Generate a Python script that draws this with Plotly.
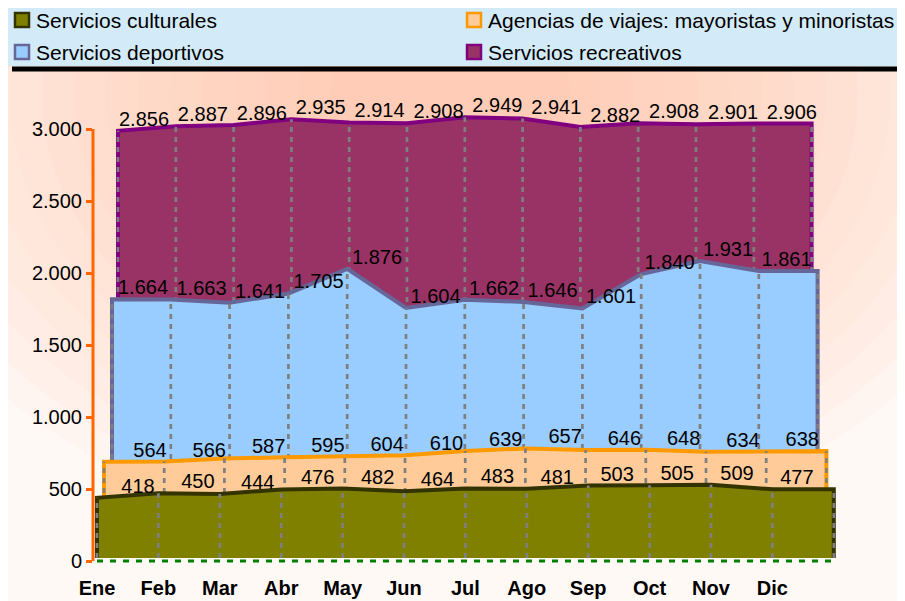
import plotly.graph_objects as go

meses = ['Ene', 'Feb', 'Mar', 'Abr', 'May', 'Jun', 'Jul', 'Ago', 'Sep', 'Oct', 'Nov', 'Dic']
culturales = [418, 450, 444, 476, 482, 464, 483, 481, 503, 505, 509, 477]
agencias = [564, 566, 587, 595, 604, 610, 639, 657, 646, 648, 634, 638]
deportivos = [1664, 1663, 1641, 1705, 1876, 1604, 1662, 1646, 1601, 1840, 1931, 1861]
recreativos = [2856, 2887, 2896, 2935, 2914, 2908, 2949, 2941, 2882, 2908, 2901, 2906]
ticks_y = [0, 500, 1000, 1500, 2000, 2500, 3000]

FUENTE = 'Liberation Sans, Arial, sans-serif'
# all pixel numbers below are page pixels of the 905x601 window;
# the page body puts the figure 8px in from the top-left corner
OFF = 8
L, R, T, B = 93, 850, 90, 566
ESC = 0.144  # px per unit on the value axis


def x_rango(x0_px, paso_px):
    a = (L - x0_px) / paso_px
    return [a, a + (R - L) / paso_px]


def y_rango(sube_px=0):
    a = -(B - 561 + sube_px) / ESC
    return [a, a + (B - T) / ESC]


def papel(px, py):
    return (px - L) / (R - L), (B - py) / (B - T)


# back to front: name, values, fill, edge, first x px, step px, lift px,
# label start px, label step px, legend spot (swatch x, row y)
series = [
    ('Servicios recreativos', recreativos, '#993366', '#800080', 118, 57.8, 19, 144, 58.9, (474, 52)),
    ('Servicios deportivos', deportivos, '#99CCFF', '#666699', 112, 58.8, 22, 143, 58.5, (22, 52)),
    ('Agencias de viajes: mayoristas y minoristas', agencias, '#FFCC99', '#FF9900', 104, 60.2, 18, 150, 59.3, (474, 20)),
    ('Servicios culturales', culturales, '#808000', '#333300', 97, 61.4, 3, 138, 59.9, (22, 20)),
]

fig = go.Figure()

n = len(meses)
# floor of the chart, main axes
fig.add_trace(go.Scatter(
    x=[0, n], y=[0, 0], mode='lines',
    line=dict(color='#008000', width=3, dash='6px,7px'),
    hoverinfo='skip', showlegend=False))

layout_ejes = {}
for k, (nombre, vals, relleno, borde, x0, paso, sube, et0, etp, _) in enumerate(series):
    ax = str(k + 2)
    xs = [0] + list(range(n + 1)) + [n]
    ys = [0] + vals + [vals[-1], 0]
    fig.add_trace(go.Scatter(
        x=xs, y=ys, xaxis='x' + ax, yaxis='y' + ax,
        mode='lines', fill='toself', fillcolor=relleno,
        line=dict(color=borde, width=4), name=nombre,
        hoverinfo='skip', showlegend=False))
    vx, vy = [], []
    for i in range(n + 1):
        vx += [i, i, None]
        vy += [0, vals[min(i, n - 1)], None]
    fig.add_trace(go.Scatter(
        x=vx, y=vy, xaxis='x' + ax, yaxis='y' + ax, mode='lines',
        line=dict(color='#7F7F7F', width=2.7, dash='5px,5px'),
        hoverinfo='skip', showlegend=False))
    # labels sit on a slightly different perspective plane
    fig.add_trace(go.Scatter(
        x=[(et0 + i * etp - x0) / paso for i in range(n)], y=vals,
        xaxis='x' + ax, yaxis='y' + ax,
        mode='text', texttemplate='%{y:,d}', textposition='top center',
        textfont=dict(family=FUENTE, size=20, color='black'),
        cliponaxis=False, hoverinfo='skip', showlegend=False))
    layout_ejes['xaxis' + ax] = dict(overlaying='x', range=x_rango(x0, paso), visible=False)
    layout_ejes['yaxis' + ax] = dict(overlaying='y', range=y_rango(sube), visible=False)

formas = []
# background: soft peach glow
cx, cy = 450, 95
for i in range(16):
    rx, ry = 600 - 32 * i, 450 - 24 * i
    x0p, y0p = papel(cx - rx, cy + ry)
    x1p, y1p = papel(cx + rx, cy - ry)
    formas.append(dict(type='circle', xref='paper', yref='paper', layer='below',
                       x0=x0p, y0=y0p, x1=x1p, y1=y1p,
                       fillcolor='rgba(255,185,145,0.06)', line=dict(width=0)))
# legend band and black rule
lx0, ly0 = papel(5, 66)
lx1, ly1 = papel(905, 0)
formas.append(dict(type='rect', xref='paper', yref='paper', layer='below',
                   x0=lx0, y0=ly0, x1=lx1, y1=ly1, fillcolor='#D3EBF8', line=dict(width=0)))
bx0, by0 = papel(12, 71.5)
bx1, by1 = papel(905, 66.5)
formas.append(dict(type='rect', xref='paper', yref='paper', layer='below',
                   x0=bx0, y0=by0, x1=bx1, y1=by1, fillcolor='black', line=dict(width=0)))
# value axis line
formas.append(dict(type='line', xref='x domain', yref='y', x0=0, x1=0,
                   y0=0, y1=max(ticks_y), line=dict(color='#FF6600', width=3)))

# legend drawn by hand: two columns inside the band
notas = []
for nombre, vals, relleno, borde, *_, (sx, sy) in series:
    ax0, ay0 = papel(sx - 7, sy + 7)
    ax1, ay1 = papel(sx + 7, sy - 7)
    formas.append(dict(type='rect', xref='paper', yref='paper',
                       x0=ax0, y0=ay0, x1=ax1, y1=ay1,
                       fillcolor=relleno, line=dict(color=borde, width=2.5)))
    tx, ty = papel(sx + 12, sy)
    notas.append(dict(text=nombre, xref='paper', yref='paper', x=tx, y=ty,
                      xanchor='left', yanchor='middle', showarrow=False,
                      font=dict(family=FUENTE, size=21, color='black')))

fig.update_layout(
    width=905 - OFF, height=601 - OFF,
    margin=dict(l=L - OFF, r=905 - R, t=T - OFF, b=601 - B),
    paper_bgcolor='#FFF9F6', plot_bgcolor='rgba(0,0,0,0)',
    separators=',.',
    font=dict(family=FUENTE, size=20, color='black'),
    shapes=formas,
    annotations=notas,
    showlegend=False,
    xaxis=dict(range=x_rango(97, 61.4), tickmode='array', tickvals=list(range(n)),
               ticktext=meses, showgrid=False, zeroline=False, showline=False,
               ticks='', ticklabelstandoff=8, automargin=False,
               tickfont=dict(family=FUENTE, size=20, color='black', weight='bold')),
    yaxis=dict(range=y_rango(0), tickmode='array', tickvals=ticks_y, tickformat=',d',
               showgrid=False, zeroline=False, showline=False, automargin=False,
               ticks='outside', ticklen=6, tickwidth=3, tickcolor='#FF6600',
               tickfont=dict(family=FUENTE, size=20, color='black')),
    **layout_ejes,
)

fig.write_html('out.html')
